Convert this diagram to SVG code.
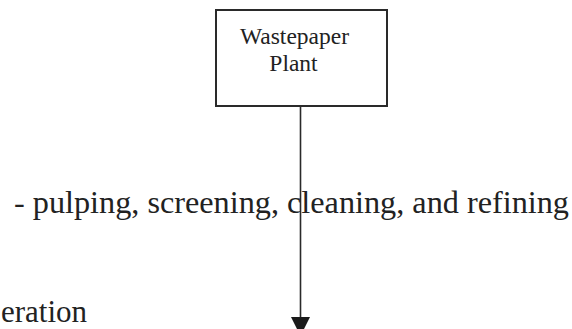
<svg xmlns="http://www.w3.org/2000/svg" width="572" height="329" viewBox="0 0 572 329">
<style>
  .box { fill: #ffffff; stroke: #2a2a2a; stroke-width: 2; }
  .lbl { font-family: "Liberation Serif", "Times New Roman", serif; fill: #222222; }
  .node-text { font-size: 23.5px; text-anchor: middle; }
  .big { font-size: 31px; }
  .conn { stroke: #2a2a2a; stroke-width: 1.6; fill: none; }
</style>
<defs>
  <marker id="arrow" markerUnits="userSpaceOnUse" markerWidth="19" markerHeight="19" refX="19" refY="9.5" orient="auto">
    <path d="M0,0 L19,9.5 L0,19 z" fill="#1a1a1a"/>
  </marker>
</defs>
<rect width="572" height="329" fill="#ffffff"/>
<g id="connectors">
  <line class="conn" x1="300.5" y1="106" x2="300.5" y2="336" marker-end="url(#arrow)"/>
</g>
<g id="wastepaper-plant">
  <rect class="box" x="216" y="10" width="171" height="96"/>
  <text class="lbl node-text" x="294.5" y="44">Wastepaper</text>
  <text class="lbl node-text" x="293.5" y="71">Plant</text>
</g>
<g id="labels">
  <text class="lbl big" x="14" y="213" textLength="555" lengthAdjust="spacingAndGlyphs">- pulping, screening, cleaning, and refining</text>
  <text class="lbl big" x="1" y="322">eration</text>
</g>
</svg>
